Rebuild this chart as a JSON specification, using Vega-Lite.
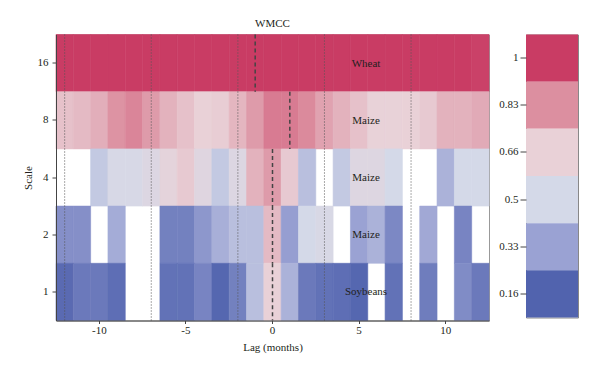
{
  "$schema": "https://vega.github.io/schema/vega-lite/v6.json",
  "padding": {"left": 21, "top": 16.5, "right": 5, "bottom": 5},
  "config": {
    "font": "Liberation Serif",
    "axis": {"labelFont": "Liberation Serif", "titleFont": "Liberation Serif", "labelFontSize": 11, "titleFontSize": 11, "titleFontWeight": "normal", "labelColor": "#231f20", "titleColor": "#231f20", "domainColor": "#444444", "tickColor": "#444444", "grid": false},
    "title": {"font": "Liberation Serif", "fontSize": 11, "fontWeight": "normal", "color": "#231f20"},
    "concat": {"spacing": 8}
  },
  "datasets": {
    "cells": [
      {"lag": -12, "scale": 16, "v": 1}, {"lag": -11, "scale": 16, "v": 1}, {"lag": -10, "scale": 16, "v": 1}, {"lag": -9, "scale": 16, "v": 1}, {"lag": -8, "scale": 16, "v": 1},
      {"lag": -7, "scale": 16, "v": 1}, {"lag": -6, "scale": 16, "v": 1}, {"lag": -5, "scale": 16, "v": 1}, {"lag": -4, "scale": 16, "v": 1}, {"lag": -3, "scale": 16, "v": 1},
      {"lag": -2, "scale": 16, "v": 1}, {"lag": -1, "scale": 16, "v": 1}, {"lag": 0, "scale": 16, "v": 1}, {"lag": 1, "scale": 16, "v": 1}, {"lag": 2, "scale": 16, "v": 1},
      {"lag": 3, "scale": 16, "v": 1}, {"lag": 4, "scale": 16, "v": 1}, {"lag": 5, "scale": 16, "v": 1}, {"lag": 6, "scale": 16, "v": 1}, {"lag": 7, "scale": 16, "v": 1},
      {"lag": 8, "scale": 16, "v": 1}, {"lag": 9, "scale": 16, "v": 1}, {"lag": 10, "scale": 16, "v": 1}, {"lag": 11, "scale": 16, "v": 1}, {"lag": 12, "scale": 16, "v": 0.99},

      {"lag": -12, "scale": 8, "v": 0.70}, {"lag": -11, "scale": 8, "v": 0.72}, {"lag": -10, "scale": 8, "v": 0.75}, {"lag": -9, "scale": 8, "v": 0.82}, {"lag": -8, "scale": 8, "v": 0.85},
      {"lag": -7, "scale": 8, "v": 0.80}, {"lag": -6, "scale": 8, "v": 0.74}, {"lag": -5, "scale": 8, "v": 0.70}, {"lag": -4, "scale": 8, "v": 0.66}, {"lag": -3, "scale": 8, "v": 0.67},
      {"lag": -2, "scale": 8, "v": 0.73}, {"lag": -1, "scale": 8, "v": 0.80}, {"lag": 0, "scale": 8, "v": 0.87}, {"lag": 1, "scale": 8, "v": 0.87}, {"lag": 2, "scale": 8, "v": 0.84},
      {"lag": 3, "scale": 8, "v": 0.78}, {"lag": 4, "scale": 8, "v": 0.74}, {"lag": 5, "scale": 8, "v": 0.70}, {"lag": 6, "scale": 8, "v": 0.65}, {"lag": 7, "scale": 8, "v": 0.65},
      {"lag": 8, "scale": 8, "v": 0.66}, {"lag": 9, "scale": 8, "v": 0.68}, {"lag": 10, "scale": 8, "v": 0.74}, {"lag": 11, "scale": 8, "v": 0.74}, {"lag": 12, "scale": 8, "v": 0.76},

      {"lag": -10, "scale": 4, "v": 0.45}, {"lag": -9, "scale": 4, "v": 0.52}, {"lag": -8, "scale": 4, "v": 0.52},
      {"lag": -7, "scale": 4, "v": 0.56}, {"lag": -6, "scale": 4, "v": 0.62}, {"lag": -5, "scale": 4, "v": 0.68}, {"lag": -4, "scale": 4, "v": 0.58}, {"lag": -3, "scale": 4, "v": 0.45},
      {"lag": -2, "scale": 4, "v": 0.56}, {"lag": -1, "scale": 4, "v": 0.74}, {"lag": 0, "scale": 4, "v": 0.80}, {"lag": 1, "scale": 4, "v": 0.68}, {"lag": 2, "scale": 4, "v": 0.42},
      {"lag": 4, "scale": 4, "v": 0.45}, {"lag": 5, "scale": 4, "v": 0.57}, {"lag": 6, "scale": 4, "v": 0.57}, {"lag": 7, "scale": 4, "v": 0.50},
      {"lag": 10, "scale": 4, "v": 0.38}, {"lag": 11, "scale": 4, "v": 0.50}, {"lag": 12, "scale": 4, "v": 0.50},

      {"lag": -12, "scale": 2, "v": 0.28}, {"lag": -11, "scale": 2, "v": 0.28}, {"lag": -9, "scale": 2, "v": 0.36},
      {"lag": -6, "scale": 2, "v": 0.24}, {"lag": -5, "scale": 2, "v": 0.24}, {"lag": -4, "scale": 2, "v": 0.30}, {"lag": -3, "scale": 2, "v": 0.37},
      {"lag": -2, "scale": 2, "v": 0.42}, {"lag": -1, "scale": 2, "v": 0.42}, {"lag": 0, "scale": 2, "v": 0.72}, {"lag": 1, "scale": 2, "v": 0.32}, {"lag": 2, "scale": 2, "v": 0.50},
      {"lag": 3, "scale": 2, "v": 0.53}, {"lag": 5, "scale": 2, "v": 0.33}, {"lag": 6, "scale": 2, "v": 0.38}, {"lag": 7, "scale": 2, "v": 0.26},
      {"lag": 9, "scale": 2, "v": 0.35}, {"lag": 11, "scale": 2, "v": 0.25},

      {"lag": -12, "scale": 1, "v": 0.18}, {"lag": -11, "scale": 1, "v": 0.22}, {"lag": -10, "scale": 1, "v": 0.22}, {"lag": -9, "scale": 1, "v": 0.19},
      {"lag": -6, "scale": 1, "v": 0.20}, {"lag": -5, "scale": 1, "v": 0.20}, {"lag": -4, "scale": 1, "v": 0.25}, {"lag": -3, "scale": 1, "v": 0.17},
      {"lag": -2, "scale": 1, "v": 0.24}, {"lag": -1, "scale": 1, "v": 0.42}, {"lag": 0, "scale": 1, "v": 0.66}, {"lag": 1, "scale": 1, "v": 0.38}, {"lag": 2, "scale": 1, "v": 0.22},
      {"lag": 3, "scale": 1, "v": 0.20}, {"lag": 4, "scale": 1, "v": 0.19}, {"lag": 5, "scale": 1, "v": 0.17}, {"lag": 7, "scale": 1, "v": 0.20},
      {"lag": 9, "scale": 1, "v": 0.23}, {"lag": 11, "scale": 1, "v": 0.27}, {"lag": 12, "scale": 1, "v": 0.22}
    ],
    "dotted": [{"lag": -12}, {"lag": -7}, {"lag": -2}, {"lag": 3}, {"lag": 8}],
    "dashed": [{"lag": -1, "scale": 16}, {"lag": 1, "scale": 8}, {"lag": 0, "scale": 4}, {"lag": 0, "scale": 2}, {"lag": 0, "scale": 1}],
    "labels": [
      {"lag": 5, "scale": 16, "crop": "Wheat"},
      {"lag": 5, "scale": 8, "crop": "Maize"},
      {"lag": 5, "scale": 4, "crop": "Maize"},
      {"lag": 5, "scale": 2, "crop": "Maize"},
      {"lag": 5, "scale": 1, "crop": "Soybeans"}
    ],
    "legend": [{"v": 1}, {"v": 0.83}, {"v": 0.66}, {"v": 0.5}, {"v": 0.33}, {"v": 0.16}]
  },
  "hconcat": [
    {
      "width": 433,
      "height": 286,
      "title": {"text": "WMCC", "anchor": "middle", "offset": 5},
      "view": {"stroke": "#999999"},
      "layer": [
        {
          "data": {"name": "cells"},
          "mark": {"type": "rect", "strokeWidth": 0.6},
          "encoding": {
            "x": {"field": "lag", "type": "ordinal",
                  "scale": {"domain": [-12,-11,-10,-9,-8,-7,-6,-5,-4,-3,-2,-1,0,1,2,3,4,5,6,7,8,9,10,11,12], "paddingInner": 0, "paddingOuter": 0},
                  "axis": {"values": [-10,-5,0,5,10], "labelAngle": 0, "title": "Lag (months)", "tickSize": 3, "labelPadding": 1, "titlePadding": 6}},
            "y": {"field": "scale", "type": "ordinal",
                  "scale": {"domain": [16,8,4,2,1], "paddingInner": 0, "paddingOuter": 0},
                  "axis": {"title": "Scale", "tickSize": 4, "labelPadding": 4, "titlePadding": 4}},
            "color": {"field": "v", "type": "quantitative",
                      "scale": {"domain": [0.16,0.33,0.5,0.66,0.83,1], "range": ["#5163AE","#9AA2D3","#D4D9E8","#E9D1D7","#DC8FA0","#C93C64"], "clamp": true, "interpolate": "rgb"},
                      "legend": null},
            "stroke": {"field": "v", "type": "quantitative",
                      "scale": {"domain": [0.16,0.33,0.5,0.66,0.83,1], "range": ["#5163AE","#9AA2D3","#D4D9E8","#E9D1D7","#DC8FA0","#C93C64"], "clamp": true, "interpolate": "rgb"},
                      "legend": null}
          }
        },
        {
          "data": {"name": "dotted"},
          "mark": {"type": "rule", "strokeDash": [1, 2], "color": "#555555", "strokeWidth": 1},
          "encoding": {"x": {"field": "lag", "type": "ordinal"}}
        },
        {
          "data": {"name": "dashed"},
          "mark": {"type": "rule", "strokeDash": [4, 3], "color": "#444444", "strokeWidth": 1.5},
          "encoding": {
            "x": {"field": "lag", "type": "ordinal"},
            "y": {"field": "scale", "type": "ordinal", "bandPosition": 0},
            "y2": {"field": "scale", "bandPosition": 1}
          }
        },
        {
          "data": {"name": "labels"},
          "mark": {"type": "text", "font": "Liberation Serif", "fontSize": 11, "color": "#231f20", "dy": 0.5},
          "encoding": {
            "x": {"field": "lag", "type": "ordinal", "bandPosition": 0.9},
            "y": {"field": "scale", "type": "ordinal"},
            "text": {"field": "crop"}
          }
        }
      ]
    },
    {
      "width": 52,
      "height": 283,
      "view": {"stroke": "#888888"},
      "data": {"name": "legend"},
      "mark": "rect",
      "encoding": {
        "y": {"field": "v", "type": "ordinal",
              "scale": {"domain": [1,0.83,0.66,0.5,0.33,0.16], "paddingInner": 0, "paddingOuter": 0},
              "axis": {"title": null, "tickSize": 6, "labelPadding": 2, "domain": false}},
        "color": {"field": "v", "type": "quantitative",
                  "scale": {"domain": [0.16,0.33,0.5,0.66,0.83,1], "range": ["#5163AE","#9AA2D3","#D4D9E8","#E9D1D7","#DC8FA0","#C93C64"], "clamp": true, "interpolate": "rgb"},
                  "legend": null}
      }
    }
  ]
}
